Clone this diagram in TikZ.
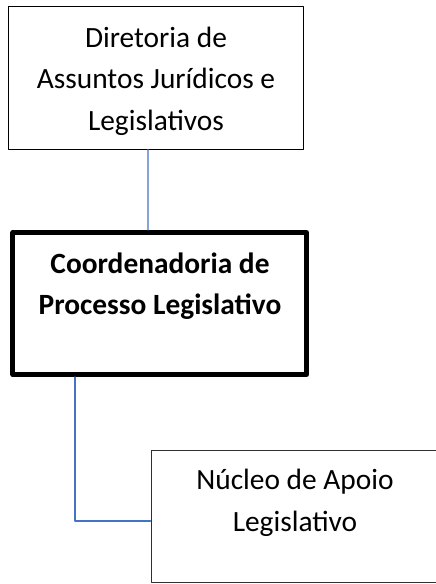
\documentclass[tikz,border=0pt]{standalone}
\usepackage{fontspec}
\setmainfont{Carlito}
\usepackage{tikz}
\usetikzlibrary{positioning}
\definecolor{linkblue}{HTML}{4472C4}
\definecolor{edgegray}{HTML}{303030}
\tikzset{
  box/.style={draw=black, line width=1bp, inner sep=0pt},
  thickbox/.style={draw=black, line width=5bp, inner sep=0pt},
  link/.style={draw=linkblue, line width=1.2bp},
  label/.style={align=center, inner sep=0pt, font=\fontsize{29.5}{41.8}\selectfont}
}
\begin{document}
\begin{tikzpicture}[line cap=round,line join=round,x=1bp,y=-1bp]
\useasboundingbox (0,0) rectangle (436,584);
% caixas
\node[box, minimum width=294bp, minimum height=142bp] (dir) at (156,78) {};
\node[thickbox, minimum width=293.5bp, minimum height=142bp] (coord) at (159.75,303.5) {};
\node[box, draw=edgegray, minimum width=298bp, minimum height=132bp] (nucleo) at (300,516) {};
% textos
\node[label] (dirtxt) at (156,81) {Diretoria de\\Assuntos Jurídicos e\\Legislativos};
\node[label, font=\fontsize{29.5}{41.8}\selectfont\bfseries] (coordtxt) at (160,286) {Coordenadoria de\\Processo Legislativo};
\node[label] (nucleotxt) at (295,502.5) {Núcleo de Apoio\\Legislativo};
% ligacoes
\draw[link] ([xshift=-8bp]dir.south) -- ([xshift=-11.75bp]coord.north);
\draw[link] ([xshift=-84.75bp]coord.south) |- ([yshift=-5bp]nucleo.west);
\end{tikzpicture}
\end{document}
